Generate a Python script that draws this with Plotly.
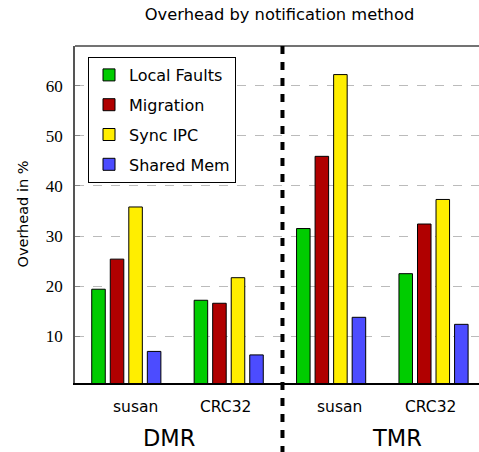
import plotly.graph_objects as go

# ---- data ----
groups = ["DMR", "TMR"]
benchmarks = ["susan", "CRC32", "susan", "CRC32"]
series_names = ["Local Faults", "Migration", "Sync IPC", "Shared Mem"]
local_faults = [19.4, 17.2, 31.5, 22.5]
migration = [25.4, 16.6, 45.9, 32.4]
sync_ipc = [35.8, 21.7, 62.2, 37.3]
shared_mem = [7.0, 6.3, 13.8, 12.4]
y_ticks = [10, 20, 30, 40, 50, 60]

# ---- style ----
colors = ["#00CC00", "#B00000", "#FFEE00", "#4C4CFF"]
SANS = "DejaVu Sans"
SERIF = "Liberation Serif"

W, H = 479, 452
L, R, T, B = 75, 0, 46, 69
plot_w = W - L - R
plot_h = H - T - B

xpos = list(range(len(benchmarks)))
series_values = [local_faults, migration, sync_ipc, shared_mem]

fig = go.Figure()
for i, (name, vals) in enumerate(zip(series_names, series_values)):
    fig.add_trace(go.Bar(
        x=xpos, y=vals, name=name,
        marker=dict(color=colors[i], line=dict(color="black", width=1)),
        legendgroup=name,
    ))

# label positions (px measured in reference -> data units)
bench_label_x = [0.085, 0.964, 2.077, 2.966]
group_label_x = [0.417, 2.644]

annotations = []
for bx, name in zip(bench_label_x, benchmarks):
    annotations.append(dict(x=bx, xref="x", y=(0 - 24) / plot_h, yref="paper",
                            text=name, showarrow=False, xanchor="center", yanchor="middle",
                            font=dict(family=SANS, size=15.5, color="black")))
for gx, name in zip(group_label_x, groups):
    annotations.append(dict(x=gx, xref="x", y=-(B - 0.5) / plot_h, yref="paper",
                            text=name, showarrow=False, xanchor="center", yanchor="bottom",
                            borderpad=0,
                            font=dict(family=SANS, size=22.5, color="black")))
annotations.append(dict(x=(22 - L) / plot_w, xref="paper", y=0.5, yref="paper",
                        text="Overhead in %", textangle=-90, showarrow=False,
                        xanchor="center", yanchor="middle",
                        font=dict(family=SANS, size=14.5, color="black")))

shapes = [
    # top frame
    dict(type="line", xref="paper", yref="paper", x0=0, x1=1, y0=1, y1=1,
         line=dict(color="#444444", width=1.5)),
    # separator between DMR and TMR
    dict(type="line", xref="x", yref="paper", x0=1.525, x1=1.525, y0=1, y1=-0.25,
         line=dict(color="black", width=4, dash="8px,8px")),
]

fig.update_layout(
    width=W, height=H,
    margin=dict(l=L, r=R, t=T, b=B),
    paper_bgcolor="white", plot_bgcolor="white",
    barmode="group", bargap=0.276, bargroupgap=0.27,
    title=dict(text="Overhead by notification method", x=(279.5 - L) / plot_w, xref="paper",
               xanchor="center", y=1 - 14 / H, yanchor="middle",
               font=dict(family=SANS, size=16.3, color="black")),
    xaxis=dict(range=[-0.501, 3.444], showticklabels=False, ticks="", showgrid=False,
               zeroline=False, showline=True, linecolor="black", linewidth=1.5),
    yaxis=dict(range=[0.7, 67.9], tickvals=y_ticks, ticks="inside", ticklen=5,
               tickcolor="#888888", tickwidth=1, ticklabelstandoff=7,
               showgrid=True, gridcolor="#BBBBBB", griddash="dash", gridwidth=1,
               zeroline=False, showline=True, linecolor="#555555", linewidth=1.5,
               tickfont=dict(family=SERIF, size=17, color="black")),
    legend=dict(x=(88 - L) / plot_w, y=(383 - 57) / plot_h, xanchor="left", yanchor="top",
                bgcolor="white", bordercolor="black", borderwidth=1,
                font=dict(family=SANS, size=16, color="black"),
                traceorder="grouped", tracegroupgap=6),
    annotations=annotations,
    shapes=shapes,
)

fig.write_html("out.html", config={"displayModeBar": False},
               post_script="document.body.style.margin='0';")
